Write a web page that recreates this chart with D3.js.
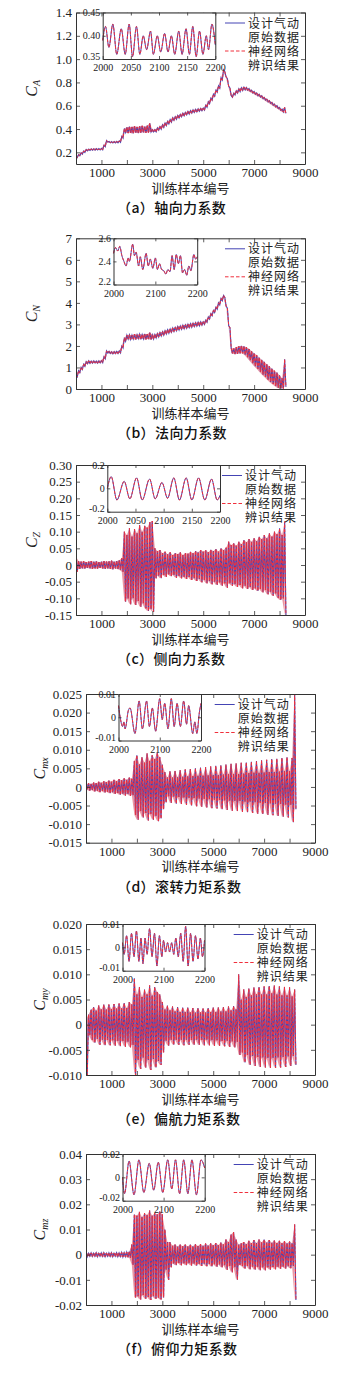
<!DOCTYPE html>
<html><head><meta charset="utf-8">
<script src="https://cdn.jsdelivr.net/npm/d3@7"></script>
<style>body{margin:0;background:#fff}svg{display:block}</style>
</head><body>
<svg id="c" width="348" height="1374"></svg>
<script>
// ---------------- DATA ----------------
const sampleIdx = d3.range(0, 8201, 100);   // training sample index (every 100)
const xTicksMain = [1000,2000,3000,4000,5000,6000,7000,8000,9000];
const xLabelsMain = [1000,3000,5000,7000,9000];
const xTitle = '训练样本编号';
const legendText = ['设计气动','原始数据','神经网络','辨识结果'];
const captions = ['（a）轴向力系数','（b）法向力系数','（c）侧向力系数','（d）滚转力矩系数','（e）偏航力矩系数','（f）俯仰力矩系数'];
const ySubs = ['A','N','Z','mx','my','mz'];

// (a) C_A upper / lower envelope
const aHi = [0.165,0.180,0.196,0.211,0.224,0.228,0.230,0.231,0.232,0.232,0.234,0.262,0.302,0.294,0.292,0.293,0.294,0.298,0.338,0.405,
 0.415,0.420,0.418,0.425,0.418,0.422,0.428,0.420,0.430,0.450,
 0.395,0.395,0.410,0.421,0.436,0.451,0.466,0.481,0.496,0.506,
 0.517,0.526,0.536,0.543,0.551,0.558,0.564,0.569,0.573,0.577,
 0.580,0.604,0.634,0.664,0.699,0.734,0.770,0.840,0.908,0.848,
 0.768,0.688,0.708,0.728,0.745,0.755,0.760,0.757,0.747,0.734,
 0.722,0.710,0.698,0.685,0.672,0.657,0.644,0.629,0.614,0.600,
 0.585,0.570,0.585];
const aLo = [0.155,0.170,0.184,0.199,0.212,0.216,0.218,0.219,0.220,0.220,0.222,0.248,0.288,0.282,0.280,0.281,0.282,0.286,0.322,0.370,
 0.365,0.368,0.362,0.370,0.365,0.368,0.372,0.368,0.370,0.375,
 0.375,0.375,0.390,0.399,0.414,0.429,0.444,0.459,0.474,0.484,
 0.495,0.504,0.514,0.521,0.529,0.536,0.542,0.547,0.553,0.557,
 0.562,0.586,0.616,0.646,0.681,0.716,0.750,0.820,0.892,0.832,
 0.752,0.672,0.692,0.708,0.721,0.731,0.736,0.733,0.723,0.710,
 0.698,0.686,0.674,0.661,0.648,0.633,0.620,0.605,0.590,0.576,
 0.561,0.546,0.535];
// (b) C_N
const bHi = [0.64,0.85,1.00,1.15,1.27,1.31,1.30,1.31,1.30,1.31,1.32,1.50,1.77,1.75,1.73,1.74,1.75,1.77,2.00,2.38,
 2.50,2.52,2.50,2.55,2.52,2.55,2.53,2.56,2.55,2.62,
 2.52,2.53,2.58,2.62,2.66,2.71,2.75,2.79,2.83,2.86,
 2.90,2.93,2.96,2.98,3.01,3.03,3.06,3.08,3.10,3.12,
 3.12,3.20,3.35,3.50,3.65,3.80,4.00,4.20,4.35,3.85,
 2.95,1.90,1.88,1.95,1.98,2.00,1.98,1.94,1.86,1.76,
 1.66,1.58,1.46,1.36,1.26,1.15,1.05,0.95,0.85,0.76,
 0.64,0.50,1.38];
const bLo = [0.56,0.75,0.90,1.05,1.17,1.19,1.20,1.21,1.20,1.21,1.22,1.40,1.67,1.65,1.63,1.64,1.65,1.67,1.90,2.22,
 2.32,2.30,2.32,2.30,2.34,2.31,2.33,2.30,2.32,2.30,
 2.32,2.37,2.42,2.46,2.50,2.55,2.59,2.63,2.67,2.70,
 2.74,2.77,2.80,2.82,2.85,2.87,2.90,2.92,2.94,2.96,
 3.00,3.10,3.25,3.40,3.55,3.70,3.90,4.10,4.25,3.75,
 2.85,1.66,1.62,1.63,1.65,1.66,1.60,1.48,1.34,1.20,
 1.06,0.94,0.80,0.67,0.56,0.44,0.33,0.23,0.14,0.06,
 0.02,0.02,0.10];
// (c) C_Z
const cHi = [0.025,0.012,0.010,0.011,0.009,0.010,0.012,0.010,0.011,0.009,0.010,0.012,0.010,0.011,0.013,0.010,0.012,0.014,0.020,0.100,
 0.090,0.110,0.085,0.108,0.095,0.120,0.100,0.118,0.112,0.128,
 0.132,0.050,0.042,0.045,0.035,0.040,0.032,0.038,0.030,0.036,
 0.033,0.038,0.030,0.036,0.034,0.040,0.035,0.042,0.038,0.045,
 0.040,0.044,0.038,0.046,0.042,0.048,0.040,0.050,0.045,0.052,
 0.070,0.060,0.065,0.058,0.070,0.062,0.075,0.068,0.078,0.070,
 0.080,0.072,0.085,0.078,0.090,0.080,0.095,0.085,0.100,0.092,
 0.110,0.090,0.130];
const cLo = [-0.020,-0.012,-0.010,-0.011,-0.009,-0.010,-0.012,-0.010,-0.011,-0.009,-0.010,-0.012,-0.010,-0.011,-0.013,-0.010,-0.012,-0.014,-0.020,-0.110,
 -0.100,-0.118,-0.100,-0.120,-0.108,-0.125,-0.115,-0.130,-0.138,-0.132,
 -0.140,-0.040,-0.032,-0.040,-0.030,-0.036,-0.028,-0.034,-0.030,-0.038,
 -0.032,-0.040,-0.035,-0.042,-0.036,-0.045,-0.040,-0.048,-0.042,-0.052,
 -0.045,-0.055,-0.048,-0.058,-0.050,-0.060,-0.052,-0.062,-0.055,-0.068,
 -0.055,-0.062,-0.058,-0.066,-0.060,-0.070,-0.062,-0.072,-0.066,-0.075,
 -0.070,-0.078,-0.072,-0.082,-0.075,-0.088,-0.080,-0.092,-0.085,-0.098,
 -0.105,-0.100,-0.150];
// (d) C_mx
const dHi = [0.0006,0.0010,0.0008,0.0012,0.0010,0.0014,0.0011,0.0015,0.0013,0.0017,0.0014,0.0019,0.0016,0.0021,0.0018,0.0023,0.0019,0.0025,0.0022,0.0070,
 0.0085,0.0060,0.0080,0.0065,0.0090,0.0070,0.0085,0.0075,0.0092,0.0080,
 0.0060,0.0040,0.0025,0.0042,0.0025,0.0043,0.0026,0.0045,0.0027,0.0047,
 0.0028,0.0048,0.0029,0.0050,0.0030,0.0052,0.0030,0.0053,0.0031,0.0055,
 0.0032,0.0057,0.0032,0.0058,0.0033,0.0060,0.0034,0.0062,0.0035,0.0063,
 0.0035,0.0065,0.0036,0.0066,0.0037,0.0068,0.0038,0.0070,0.0038,0.0072,
 0.0039,0.0073,0.0040,0.0075,0.0040,0.0076,0.0041,0.0078,0.0042,0.0080,
 0.0042,0.0078,0.0250];
const dLo = [-0.0006,-0.0010,-0.0008,-0.0012,-0.0010,-0.0014,-0.0011,-0.0015,-0.0013,-0.0017,-0.0014,-0.0019,-0.0016,-0.0021,-0.0018,-0.0023,-0.0019,-0.0024,-0.0022,-0.0075,
 -0.0088,-0.0065,-0.0082,-0.0070,-0.0090,-0.0072,-0.0088,-0.0078,-0.0092,-0.0085,
 -0.0060,-0.0042,-0.0025,-0.0043,-0.0026,-0.0045,-0.0027,-0.0046,-0.0028,-0.0048,
 -0.0029,-0.0050,-0.0030,-0.0052,-0.0031,-0.0053,-0.0032,-0.0055,-0.0033,-0.0057,
 -0.0034,-0.0058,-0.0035,-0.0060,-0.0036,-0.0062,-0.0037,-0.0064,-0.0038,-0.0065,
 -0.0038,-0.0067,-0.0039,-0.0068,-0.0040,-0.0070,-0.0041,-0.0072,-0.0042,-0.0073,
 -0.0043,-0.0075,-0.0044,-0.0076,-0.0045,-0.0078,-0.0046,-0.0080,-0.0047,-0.0082,
 -0.0048,-0.0095,-0.0060];
// (e) C_my
const eHi = [0.0010,0.0020,0.0030,0.0035,0.0028,0.0038,0.0030,0.0040,0.0030,0.0040,0.0031,0.0041,0.0032,0.0042,0.0032,0.0043,0.0033,0.0045,0.0040,0.0092,
 0.0060,0.0075,0.0055,0.0070,0.0060,0.0078,0.0058,0.0075,0.0065,0.0060,
 0.0045,0.0030,0.0038,0.0028,0.0036,0.0026,0.0035,0.0025,0.0034,0.0025,
 0.0034,0.0024,0.0033,0.0024,0.0033,0.0024,0.0032,0.0024,0.0033,0.0025,
 0.0034,0.0025,0.0034,0.0026,0.0035,0.0026,0.0036,0.0028,0.0037,0.0030,
 0.0100,0.0050,0.0070,0.0055,0.0072,0.0058,0.0074,0.0060,0.0075,0.0060,
 0.0076,0.0060,0.0077,0.0062,0.0078,0.0060,0.0076,0.0058,0.0075,0.0058,
 0.0074,0.0056,0.0070];
const eLo = [-0.0100,-0.0020,-0.0030,-0.0036,-0.0028,-0.0040,-0.0030,-0.0041,-0.0030,-0.0041,-0.0031,-0.0042,-0.0032,-0.0043,-0.0032,-0.0044,-0.0034,-0.0045,-0.0040,-0.0100,
 -0.0070,-0.0088,-0.0065,-0.0085,-0.0070,-0.0090,-0.0068,-0.0085,-0.0072,-0.0080,
 -0.0055,-0.0032,-0.0042,-0.0030,-0.0040,-0.0030,-0.0040,-0.0030,-0.0041,-0.0030,
 -0.0040,-0.0030,-0.0040,-0.0030,-0.0040,-0.0030,-0.0041,-0.0030,-0.0041,-0.0031,
 -0.0042,-0.0031,-0.0042,-0.0032,-0.0043,-0.0032,-0.0044,-0.0033,-0.0045,-0.0034,
 -0.0060,-0.0055,-0.0075,-0.0060,-0.0080,-0.0062,-0.0082,-0.0064,-0.0084,-0.0065,
 -0.0085,-0.0066,-0.0086,-0.0066,-0.0086,-0.0065,-0.0085,-0.0064,-0.0084,-0.0063,
 -0.0082,-0.0062,-0.0080];
// (f) C_mz
const fHi = [0.0008,0.0006,0.0007,0.0006,0.0008,0.0006,0.0007,0.0008,0.0006,0.0007,0.0008,0.0006,0.0008,0.0007,0.0009,0.0008,0.0010,0.0012,0.0040,0.0160,
 0.0155,0.0170,0.0150,0.0165,0.0158,0.0175,0.0155,0.0165,0.0160,0.0172,
 0.0160,0.0100,0.0050,0.0050,0.0035,0.0040,0.0032,0.0040,0.0033,0.0040,
 0.0032,0.0040,0.0033,0.0042,0.0034,0.0042,0.0035,0.0044,0.0036,0.0045,
 0.0037,0.0046,0.0038,0.0048,0.0040,0.0060,0.0050,0.0080,0.0090,0.0060,
 0.0040,0.0045,0.0050,0.0042,0.0055,0.0045,0.0058,0.0046,0.0060,0.0048,
 0.0060,0.0048,0.0058,0.0047,0.0056,0.0046,0.0055,0.0045,0.0054,0.0045,
 0.0052,0.0045,0.0120];
const fLo = [-0.0008,-0.0006,-0.0007,-0.0006,-0.0008,-0.0006,-0.0007,-0.0008,-0.0006,-0.0007,-0.0008,-0.0006,-0.0008,-0.0007,-0.0009,-0.0008,-0.0010,-0.0012,-0.0040,-0.0170,
 -0.0165,-0.0178,-0.0160,-0.0175,-0.0168,-0.0180,-0.0165,-0.0175,-0.0170,-0.0178,
 -0.0170,-0.0060,-0.0100,-0.0050,-0.0035,-0.0042,-0.0033,-0.0042,-0.0034,-0.0042,
 -0.0034,-0.0043,-0.0035,-0.0044,-0.0036,-0.0045,-0.0036,-0.0046,-0.0037,-0.0047,
 -0.0038,-0.0048,-0.0039,-0.0050,-0.0042,-0.0060,-0.0045,-0.0070,-0.0050,-0.0100,
 -0.0040,-0.0045,-0.0055,-0.0045,-0.0058,-0.0047,-0.0060,-0.0048,-0.0062,-0.0050,
 -0.0062,-0.0050,-0.0060,-0.0049,-0.0058,-0.0048,-0.0056,-0.0047,-0.0055,-0.0046,
 -0.0054,-0.0045,-0.0180];

// insets (samples 2000-2200)
const insAx = [2000,2005,2011,2018,2025,2033,2040,2047,2053,2060,2066,2072,2078,2085,2090,2097,2103,2110,2116,2122,2128,2135,2141,2148,2154,2160,2166,2172,2178,2184,2188,2194,2200];
const insAy = [0.390,0.420,0.375,0.425,0.360,0.415,0.360,0.425,0.355,0.420,0.360,0.400,0.370,0.410,0.360,0.400,0.365,0.405,0.365,0.400,0.360,0.410,0.360,0.415,0.360,0.420,0.355,0.410,0.360,0.400,0.370,0.425,0.380];
const insBx = [2000,2005,2010,2015,2020,2025,2030,2035,2038,2046,2050,2054,2060,2064,2070,2078,2083,2088,2094,2100,2105,2110,2115,2120,2125,2130,2135,2140,2145,2150,2155,2160,2165,2170,2175,2180,2185,2192,2196,2200];
const insBy = [2.47,2.52,2.49,2.53,2.45,2.40,2.36,2.43,2.40,2.55,2.45,2.48,2.36,2.44,2.33,2.47,2.36,2.42,2.34,2.43,2.33,2.38,2.33,2.32,2.29,2.33,2.31,2.45,2.33,2.46,2.38,2.45,2.30,2.33,2.28,2.36,2.32,2.46,2.42,2.44];
const insCx = [2000,2007,2017,2030,2040,2052,2062,2075,2085,2097,2107,2118,2128,2140,2150,2162,2173,2185,2195,2200];
const insCy = [0.00,0.10,-0.10,0.06,-0.09,0.09,-0.10,0.08,-0.09,0.05,-0.085,0.09,-0.10,0.09,-0.10,0.09,-0.10,0.08,-0.10,-0.06];
const insDx = [2000,2005,2010,2013,2016,2024,2028,2040,2050,2058,2068,2075,2082,2090,2100,2106,2112,2120,2128,2135,2142,2150,2158,2165,2170,2180,2185,2190,2196,2200];
const insDy = [0.005,-0.001,-0.004,-0.002,-0.005,0.003,0.004,-0.007,0.007,-0.005,0.007,-0.004,0.004,-0.006,0.008,-0.001,0.006,-0.005,0.008,-0.004,0.006,-0.004,0.007,-0.003,0.005,-0.007,-0.002,-0.007,0.002,0.006];
const insEx = [2000,2004,2010,2016,2022,2028,2034,2040,2045,2050,2055,2060,2066,2072,2078,2084,2090,2096,2100,2105,2110,2115,2120,2125,2130,2136,2142,2148,2154,2160,2166,2172,2178,2184,2190,2195,2200];
const insEy = [0.002,-0.003,0.005,-0.006,0.006,-0.004,0.007,-0.006,0.004,-0.007,0.004,-0.003,0.008,-0.004,0.006,-0.008,0.005,-0.004,0.003,-0.002,0.002,-0.002,0.002,-0.003,0.004,-0.004,0.006,-0.006,0.009,-0.008,0.006,-0.006,0.005,-0.005,0.004,-0.004,0.003];
const insFx = [2000,2005,2016,2028,2040,2052,2065,2076,2087,2098,2110,2120,2129,2139,2149,2159,2169,2180,2191,2200];
const insFy = [0.000,-0.014,0.014,-0.015,0.015,-0.013,0.012,-0.011,0.013,-0.013,0.015,-0.010,0.015,-0.014,0.015,-0.014,0.015,-0.015,0.015,0.008];

// tick values
const yTicksA = [0.2,0.4,0.6,0.8,1.0,1.2,1.4];
const yTicksB = [0,1,2,3,4,5,6,7];
const yTicksC = [-0.15,-0.10,-0.05,0,0.05,0.10,0.15,0.20,0.25,0.30];
const yTicksD = [-0.015,-0.010,-0.005,0,0.005,0.010,0.015,0.020,0.025];
const yTicksE = [-0.010,-0.005,0,0.005,0.010,0.015,0.020];
const yTicksF = [-0.02,-0.01,0,0.01,0.02,0.03,0.04];
const insXTicks50 = [2000,2050,2100,2150,2200];
const insXTicks100 = [2000,2100,2200];

// ---------------- LAYOUT ----------------
const panels = [
 {hi:aHi,lo:aLo,yDom:[0.1,1.4],yT:yTicksA,dec:1,L:76,R:305,T:12.5,B:164,ytx:37,
  ins:{x:insAx,y:insAy,L:102.7,R:215.3,B:59,dom:[0.35,0.45],yT:[0.35,0.40,0.45],dec:2,xT:insXTicks50},legX:225},
 {hi:bHi,lo:bLo,yDom:[0,7],yT:yTicksB,dec:0,L:76,R:305,T:238.3,B:389,ytx:37,
  ins:{x:insBx,y:insBy,L:113.5,R:197.2,B:284.5,dom:[2.2,2.6],yT:[2.2,2.4,2.6],dec:1,xT:insXTicks100},legX:225},
 {hi:cHi,lo:cLo,yDom:[-0.15,0.30],yT:yTicksC,dec:2,L:76,R:305,T:465,B:615,ytx:37,
  ins:{x:insCx,y:insCy,L:107.3,R:220,B:511.7,dom:[-0.2,0.2],yT:[-0.2,0,0.2],dec:1,xT:insXTicks50},legX:222},
 {hi:dHi,lo:dLo,yDom:[-0.015,0.025],yT:yTicksD,dec:3,L:86,R:315,T:694,B:842.7,ytx:45,
  ins:{x:insDx,y:insDy,L:118.5,R:201,B:740.5,dom:[-0.01,0.01],yT:[-0.01,0,0.01],dec:2,xT:insXTicks100},legX:214.7},
 {hi:eHi,lo:eLo,yDom:[-0.010,0.020],yT:yTicksE,dec:3,L:86,R:315,T:924,B:1075,ytx:45,
  ins:{x:insEx,y:insEy,L:122.5,R:204.5,B:970.7,dom:[-0.01,0.01],yT:[-0.01,0,0.01],dec:2,xT:insXTicks100},legX:233.7},
 {hi:fHi,lo:fLo,yDom:[-0.02,0.04],yT:yTicksF,dec:2,L:86,R:315,T:1154,B:1305,ytx:45,
  ins:{x:insFx,y:insFy,L:122.5,R:204.7,B:1200.7,dom:[-0.02,0.02],yT:[-0.02,0,0.02],dec:2,xT:insXTicks100},legX:233.7}
];

const BLUE = '#4444b4', RED = '#f0303c', AX = '#333';
const SERIF = '"Liberation Serif","Times New Roman",serif';
const CJK = '"Noto Sans CJK SC","Noto Sans",sans-serif';
const LEGF = '"Liberation Serif","Noto Sans CJK SC",serif';
const svg = d3.select('#c');

function fmtNum(v, dec){ return Math.abs(v) < 1e-12 ? '0' : v.toFixed(dec); }

function axes(g, x, y, xT, xLab, yT, dec, fs, tl, padX, padY, lowShift){
  const ax = (sel) => sel.attr('font-family', SERIF).attr('font-size', fs);
  const left = g.append('g').attr('transform',`translate(${x.range()[0]},0)`)
   .call(d3.axisLeft(y).tickValues(yT).tickSizeInner(-tl).tickSizeOuter(0).tickPadding(padY).tickFormat(d=>fmtNum(d,dec))).call(ax);
  if (lowShift) left.selectAll('.tick text').filter(d => d === yT[0]).attr('y', -lowShift);
  g.append('g').attr('transform',`translate(${x.range()[1]},0)`)
   .call(d3.axisRight(y).tickValues(yT).tickSizeInner(-tl).tickSizeOuter(0).tickFormat(''));
  g.append('g').attr('transform',`translate(0,${y.range()[0]})`)
   .call(d3.axisBottom(x).tickValues(xT).tickSizeInner(-tl).tickSizeOuter(0).tickPadding(padX)
     .tickFormat(d => xLab.includes(d) ? String(d) : '')).call(ax);
  g.append('g').attr('transform',`translate(0,${y.range()[1]})`)
   .call(d3.axisTop(x).tickValues(xT).tickSizeInner(-tl).tickSizeOuter(0).tickFormat(''));
  g.selectAll('.domain').attr('stroke', AX).attr('stroke-width', 1);
  g.selectAll('.tick line').attr('stroke', AX).attr('stroke-width', 0.8);
  g.selectAll('.tick text').attr('fill', '#222');
}

panels.forEach((p, k) => {
  const g = svg.append('g');
  const x = d3.scaleLinear().domain([0, 9000]).range([p.L, p.R]);
  const y = d3.scaleLinear().domain(p.yDom).range([p.B, p.T]);
  const cid = 'clip' + k;
  svg.append('clipPath').attr('id', cid).append('rect')
    .attr('x', p.L).attr('y', p.T).attr('width', p.R - p.L).attr('height', p.B - p.T);

  const dg = g.append('g').attr('clip-path', `url(#${cid})`);
  // band between envelopes
  const area = d3.area().x((d, i) => x(sampleIdx[i])).y0((d, i) => y(p.lo[i])).y1(d => y(d));
  dg.append('path').attr('d', area(p.hi)).attr('fill', '#d8405a').attr('fill-opacity', 0.55);
  // dense oscillation: alternate upper / lower envelope values
  const pts = [];
  sampleIdx.forEach((s, i) => { pts.push([s, p.hi[i]]); pts.push([s + 50, p.lo[i]]); });
  const line = d3.line().x(d => x(d[0])).y(d => y(d[1]));
  dg.append('path').attr('d', line(pts)).attr('fill', 'none').attr('stroke', BLUE).attr('stroke-width', 1.1);
  dg.append('path').attr('d', line(pts)).attr('fill', 'none').attr('stroke', RED).attr('stroke-width', 1)
    .attr('stroke-dasharray', '3,1.5');

  axes(g, x, y, xTicksMain, xLabelsMain, p.yT, p.dec, 13, 4, 4, 4, 0);

  // inset
  const q = p.ins;
  const ix = d3.scaleLinear().domain([2000, 2200]).range([q.L, q.R]);
  const iy = d3.scaleLinear().domain(q.dom).range([q.B, p.T]);
  g.append('rect').attr('x', q.L).attr('y', p.T).attr('width', q.R - q.L).attr('height', q.B - p.T).attr('fill', '#fff');
  const il = d3.line().x((d, i) => ix(q.x[i])).y(d => iy(d)).curve(d3.curveMonotoneX);
  g.append('path').attr('d', il(q.y)).attr('fill', 'none').attr('stroke', BLUE).attr('stroke-width', 1);
  g.append('path').attr('d', il(q.y)).attr('fill', 'none').attr('stroke', RED).attr('stroke-width', 1).attr('stroke-dasharray', '3,1.5');
  axes(g, ix, iy, q.xT, q.xT, q.yT, q.dec, 10, 3, 5, 2.5, 3);

  // legend
  const ly0 = p.T + 10.5, dy = 14;
  g.append('line').attr('x1', p.legX).attr('x2', p.legX + 20).attr('y1', ly0).attr('y2', ly0)
    .attr('stroke', BLUE).attr('stroke-width', 1);
  g.append('line').attr('x1', p.legX).attr('x2', p.legX + 20).attr('y1', ly0 + 2 * dy).attr('y2', ly0 + 2 * dy)
    .attr('stroke', RED).attr('stroke-width', 1).attr('stroke-dasharray', '3.5,2');
  legendText.forEach((t, i) => {
    g.append('text').attr('x', p.legX + 23).attr('y', ly0 + i * dy + 4.5)
      .attr('font-family', LEGF).attr('font-size', 12).attr('letter-spacing', 1)
      .attr('fill', '#222').text(t);
  });

  // y title
  const yt = g.append('text').attr('transform', `translate(${p.ytx},${(p.T + p.B) / 2}) rotate(-90)`)
    .attr('text-anchor', 'middle').attr('font-family', SERIF).attr('font-style', 'italic').attr('font-size', 16).attr('fill', '#222');
  yt.append('tspan').text('C');
  yt.append('tspan').attr('font-size', 10).attr('dy', 3).text(ySubs[k]);

  // x title
  g.append('text').attr('x', (p.L + p.R) / 2).attr('y', p.B + 28.5).attr('text-anchor', 'middle')
    .attr('font-family', LEGF).attr('font-size', 13).attr('fill', '#222').text(xTitle);

  // caption
  g.append('text').attr('x', 117).attr('y', p.B + 49)
    .attr('font-family', CJK).attr('font-size', 14).attr('font-weight', 500).attr('letter-spacing', 0.4)
    .attr('fill', '#111').text(captions[k]);
});
</script>
</body></html>
